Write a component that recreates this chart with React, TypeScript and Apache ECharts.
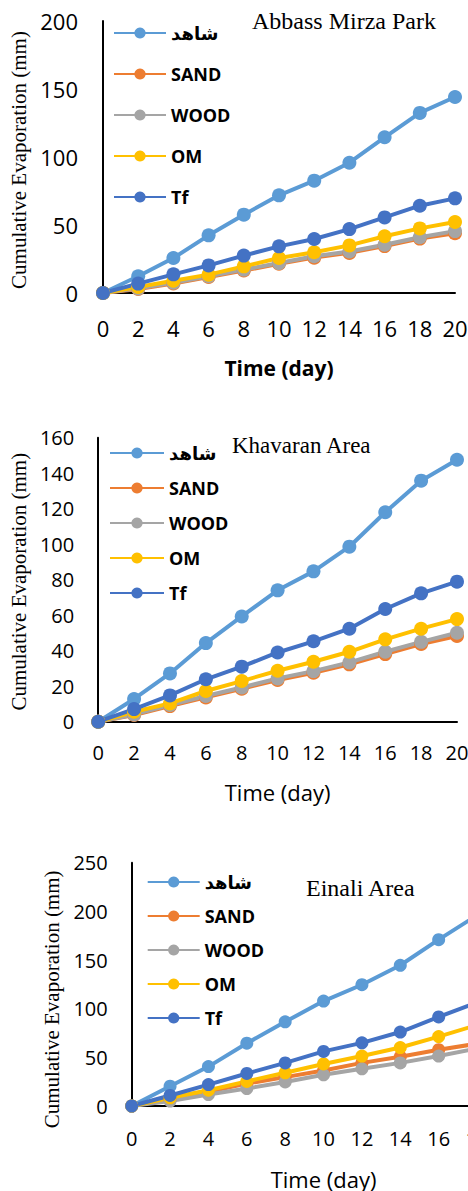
import React, { useEffect, useRef } from "react";
import * as echarts from "echarts";

const days = [0, 2, 4, 6, 8, 10, 12, 14, 16, 18, 20];
const seriesNames = ["شاهد", "SAND", "WOOD", "OM", "Tf"];
const seriesColors = ["#5B9BD5", "#ED7D31", "#A5A5A5", "#FFC000", "#4472C4"];
const panelTitles = ["Abbass Mirza Park", "Khavaran Area", "Einali Area"];
const xAxisTitle = "Time (day)";
const yAxisTitle = "Cumulative Evaporation (mm)";

// Panel 1: Abbass Mirza Park
const control1 = [0, 12.3, 25.7, 42.4, 57.6, 71.8, 82.6, 95.8, 114.5, 132.4, 144.1];
const sand1 = [0, 3, 7, 11.8, 16.5, 21.5, 26, 29.5, 34.5, 40, 44];
const wood1 = [0, 3.4, 7.6, 12.3, 17.2, 22, 27, 30.5, 35.5, 41, 45.5];
const om1 = [0, 4.4, 9, 13.5, 19.6, 25.7, 30, 35, 41.7, 47.5, 52.2];
const tf1 = [0, 6.9, 13.7, 20.3, 27.5, 34.3, 39.7, 47, 55.6, 64.2, 69.6];

// Panel 2: Khavaran Area
const control2 = [0, 12.8, 27.2, 44.3, 59.3, 74, 84.7, 98.6, 118, 135.8, 147.6];
const sand2 = [0, 3.8, 8.8, 13.7, 18.6, 23.5, 27.6, 32.3, 38.1, 43.8, 48.3];
const wood2 = [0, 4.1, 9.4, 14.5, 19.3, 24.4, 28.5, 33.4, 39.4, 45, 50.1];
const om2 = [0, 5.6, 10.3, 17.3, 22.9, 28.7, 33.8, 39.4, 46.4, 52.4, 57.8];
const tf2 = [0, 7.1, 14.8, 23.9, 31, 39, 45.3, 52.4, 63.5, 72.3, 78.9];

// Panel 3: Einali Area (visible up to day 18; the figure is cut at the right)
const control3 = [0, 20.3, 40.5, 64.5, 86.5, 107.8, 124.6, 144.6, 170.9, 196];
const sand3 = [0, 6.8, 14.5, 23, 29.7, 36.5, 44.3, 50.7, 57.8, 64];
const wood3 = [0, 5.1, 11.8, 17.9, 24.7, 32.1, 38.2, 44.3, 51.3, 59.1];
const om3 = [0, 8.4, 16.2, 25.3, 34.1, 43.2, 51.3, 60.1, 71.3, 83.2];
const tf3 = [0, 10.8, 22, 33.4, 44.3, 56.1, 64.9, 76, 91.5, 106.5];

const yMax = [200, 160, 250];
const yStep = [50, 20, 50];

const panelData = [
  [control1, sand1, wood1, om1, tf1],
  [control2, sand2, wood2, om2, tf2],
  [control3, sand3, wood3, om3, tf3],
];

const SANS = "'Open Sans', 'DejaVu Sans', sans-serif";
const SERIF = "'Liberation Serif', 'Times New Roman', serif";

const layout = [
  {
    grid: { left: 103, top: 21, width: 352, height: 272 },
    tickFont: 22, tickMarginX: 24, tickMarginY: 25,
    xNameFont: 21, xNameWeight: "bold" as const, xNameGap: 64,
    yNameGap: 74, yNamePad: [0, 6, 0, 0],
    legend: { left: 113, top: 23, itemGap: 21, itemWidth: 52 },
    title: { left: 252, top: 9, size: 24 },
    symbol: 14, line: 4,
  },
  {
    grid: { left: 96, top: 437.7, width: 361, height: 284 },
    tickFont: 20, tickMarginX: 21, tickMarginY: 24,
    xNameFont: 22, xNameWeight: "normal" as const, xNameGap: 59,
    yNameGap: 68, yNamePad: [0, 4, 0, 0],
    legend: { left: 109, top: 443, itemGap: 15, itemWidth: 54 },
    title: { left: 232, top: 434, size: 23 },
    symbol: 14, line: 4,
  },
  {
    grid: { left: 131.7, top: 862.7, width: 383.7, height: 246.6 },
    tickFont: 20, tickMarginX: 22, tickMarginY: 24,
    xNameFont: 22, xNameWeight: "normal" as const, xNameGap: 62,
    yNameGap: 68, yNamePad: [0, 30, 0, 0],
    legend: { left: 146.7, top: 872, itemGap: 14, itemWidth: 52 },
    title: { left: 306, top: 876, size: 24 },
    symbol: 13, line: 4,
  },
];

export default function App() {
  const ref = useRef<HTMLDivElement>(null);

  useEffect(() => {
    if (!ref.current) return;
    const chart = echarts.init(ref.current, null, { renderer: "svg" });

    const grids = layout.map((l) => ({ ...l.grid, containLabel: false }));
    const xAxes = layout.map((l, i) => ({
      type: "value",
      gridIndex: i,
      min: 0,
      max: 20,
      interval: 2,
      name: xAxisTitle,
      nameLocation: "middle",
      nameGap: l.xNameGap,
      nameTextStyle: {
        fontFamily: SANS,
        fontSize: l.xNameFont,
        fontWeight: l.xNameWeight,
        color: "#000",
        lineHeight: l.xNameFont,
      },
      axisLine: { show: true, lineStyle: { color: "#000", width: 2 } },
      axisTick: { show: false },
      splitLine: { show: false },
      axisLabel: {
        fontFamily: SANS,
        fontSize: l.tickFont,
        color: "#000",
        margin: l.tickMarginX,
        lineHeight: l.tickFont,
      },
    }));
    const yAxes = layout.map((l, i) => ({
      type: "value",
      gridIndex: i,
      min: 0,
      max: yMax[i],
      interval: yStep[i],
      name: yAxisTitle,
      nameLocation: "middle",
      nameRotate: 90,
      nameGap: l.yNameGap,
      nameTextStyle: {
        fontFamily: SERIF,
        fontSize: 21,
        color: "#000",
        padding: l.yNamePad,
      },
      axisLine: { show: true, lineStyle: { color: "#000", width: 2 } },
      axisTick: { show: false },
      splitLine: { show: false },
      axisLabel: {
        fontFamily: SANS,
        fontSize: l.tickFont,
        color: "#000",
        margin: l.tickMarginY,
      },
    }));

    const series: any[] = [];
    panelData.forEach((panel, p) => {
      panel.forEach((vals, s) => {
        series.push({
          type: "line",
          name: seriesNames[s],
          xAxisIndex: p,
          yAxisIndex: p,
          data: vals.map((v, k) => [days[k], v]),
          symbol: "circle",
          symbolSize: layout[p].symbol,
          lineStyle: { color: seriesColors[s], width: layout[p].line },
          itemStyle: { color: seriesColors[s] },
          clip: false,
        });
      });
    });

    const legends = layout.map((l) => ({
      orient: "vertical",
      left: l.legend.left,
      top: l.legend.top,
      itemGap: l.legend.itemGap,
      itemWidth: l.legend.itemWidth,
      itemHeight: 14,
      padding: 0,
      data: seriesNames,
      textStyle: {
        fontFamily: SANS,
        fontSize: 18,
        fontWeight: "bold",
        color: "#000",
        lineHeight: 20,
      },
    }));

    const titles = layout.map((l, i) => ({
      text: panelTitles[i],
      left: l.title.left,
      top: l.title.top,
      padding: 0,
      textStyle: {
        fontFamily: SERIF,
        fontSize: l.title.size,
        fontWeight: "normal",
        color: "#000",
        lineHeight: l.title.size,
      },
    }));

    chart.setOption({
      animation: false,
      backgroundColor: "#fff",
      title: titles,
      legend: legends,
      grid: grids,
      xAxis: xAxes,
      yAxis: yAxes,
      series,
    });

    return () => chart.dispose();
  }, []);

  return (
    <div
      style={{
        position: "absolute",
        left: 0,
        top: 0,
        width: 468,
        height: 1191,
        overflow: "hidden",
        background: "#fff",
      }}
    >
      <div ref={ref} style={{ width: 530, height: 1191 }} />
    </div>
  );
}
